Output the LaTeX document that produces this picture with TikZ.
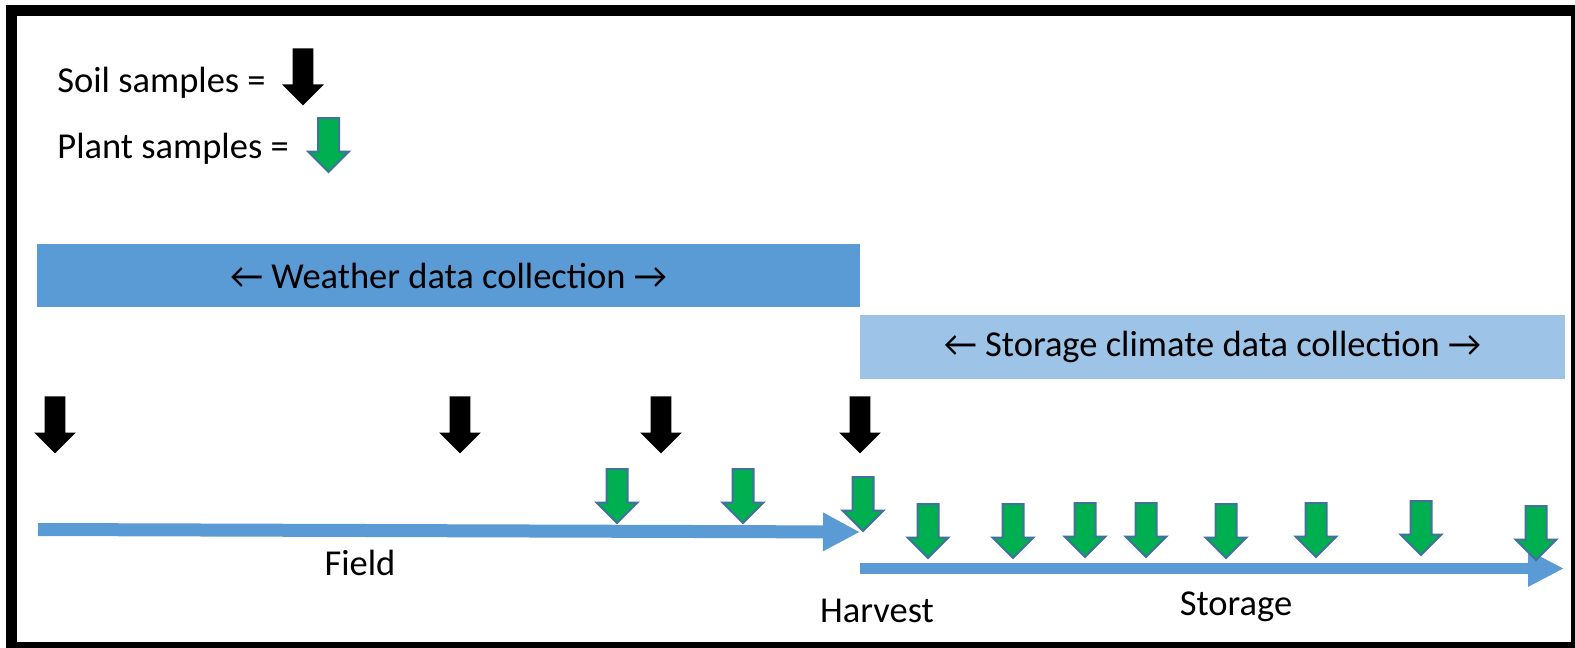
\documentclass[tikz,border=0pt]{standalone}
\usepackage{fontspec}
\setmainfont{Carlito}
\usetikzlibrary{shapes.arrows,arrows.meta}
\definecolor{barblue}{HTML}{5B9BD5}
\definecolor{barlight}{HTML}{9DC3E6}
\definecolor{sgreen}{HTML}{00B050}
\definecolor{soutline}{HTML}{41719C}
\tikzset{
  downarrow/.style={single arrow, shape border rotate=270, inner xsep=4.75pt, inner ysep=0pt,
    single arrow head extend=5pt, single arrow head indent=0pt, minimum height=27pt,
    anchor=tail},
  soilarrow/.style={downarrow, fill=black, draw=none, inner xsep=5pt, single arrow head extend=5.25pt, minimum height=28.5pt},
  plantarrow/.style={downarrow, fill=sgreen, draw=soutline, line width=1pt},
  bar/.style={inner sep=0pt, text=black},
  lbl/.style={inner sep=0pt, text=black},
  timeline/.style={draw=barblue, line width=#1},
}
\begin{document}
\begin{tikzpicture}[x=0.5pt,y=-0.5pt,font=\fontsize{18.25}{22}\selectfont]
\useasboundingbox (0,0) rectangle (1575,648);
\clip (0,0) rectangle (1575,648);
\fill[white] (0,0) rectangle (1575,648);
\draw[line width=5.5pt] (11,10.5) rectangle (1576.5,647.5);

% legend
\node[lbl, anchor=base west] (soillbl) at (57,92) {Soil samples =};
\node[lbl, anchor=base west] (plantlbl) at (57,158) {Plant samples =};
\node[soilarrow] (soilleg) at (303,48) {};
\node[plantarrow] (plantleg) at (328.5,117) {};

% bars
\node[bar, fill=barblue, minimum width=411.5pt, minimum height=31.5pt] (weather) at (448.5,275.5) {← Weather data collection →};
\node[bar, fill=barlight, minimum width=352.5pt, minimum height=32pt] (storagebar) at (1212.5,347) {← Storage climate data collection →};

% timelines
\coordinate (fieldstart) at (38,529.5);
\coordinate (harvestpt) at (860,532);
\coordinate (storestart) at (860,568.5);
\coordinate (storeend) at (1564,568.5);
\draw[timeline=6.5pt, -{Triangle[length=18.5pt,width=18pt]}] (fieldstart) -- (harvestpt);
\draw[timeline=5.5pt, -{Triangle[length=18pt,width=17pt]}] (storestart) -- (storeend);

% soil sample arrows
\node[soilarrow] (s1) at (55,396) {};
\node[soilarrow] (s2) at (460,396) {};
\node[soilarrow] (s3) at (661,396) {};
\node[soilarrow] (s4) at (860,396) {};

% plant sample arrows (field)
\node[plantarrow] (p1) at (617,468) {};
\node[plantarrow] (p2) at (743,468) {};
\node[plantarrow] (p3) at (863,476) {};
% plant sample arrows (storage)
\node[plantarrow] (q1) at (928,503) {};
\node[plantarrow] (q2) at (1013,503) {};
\node[plantarrow] (q3) at (1085,502) {};
\node[plantarrow] (q4) at (1146,502) {};
\node[plantarrow] (q5) at (1226,503) {};
\node[plantarrow] (q6) at (1316,502) {};
\node[plantarrow] (q7) at (1421,500) {};
\node[plantarrow] (q8) at (1536,505) {};

% labels
\node[lbl, anchor=base] (field) at (360,575) {Field};
\node[lbl, anchor=base] (harvest) at (877,622) {Harvest};
\node[lbl, anchor=base] (storage) at (1236,615) {Storage};
\end{tikzpicture}
\end{document}
